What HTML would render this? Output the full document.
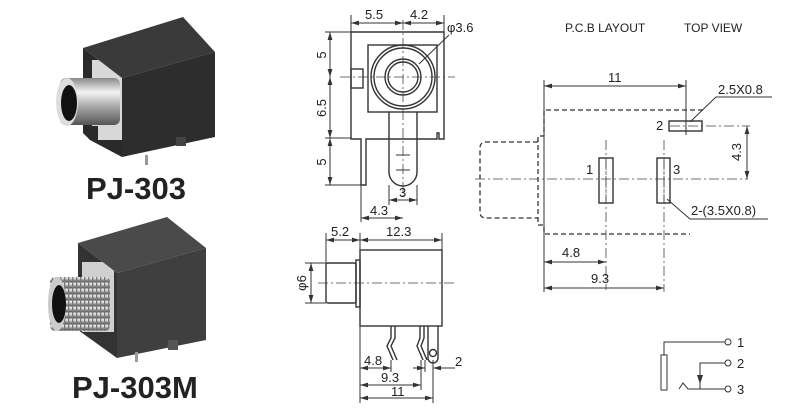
<!DOCTYPE html>
<html><head><meta charset="utf-8"><style>
html,body{margin:0;padding:0;background:#fff;}
svg{display:block;}
text{font-family:"Liberation Sans",sans-serif;fill:#222;}
.l{stroke:#333;stroke-width:1;fill:none;}
.t{stroke:#333;stroke-width:1.4;fill:none;}
.d{stroke:#333;stroke-width:1.3;fill:none;stroke-dasharray:5,3;}
.c{stroke:#444;stroke-width:0.8;fill:none;stroke-dasharray:10,3,2,3;}
</style></head><body>
<svg width="800" height="412" viewBox="0 0 800 412" xmlns="http://www.w3.org/2000/svg">
<defs>
<marker id="a" viewBox="0 0 10 6" refX="10" refY="3" markerWidth="8" markerHeight="5" orient="auto-start-reverse"><path d="M0,0L10,3L0,6z" fill="#333"/></marker>
<linearGradient id="s" x1="0" y1="0" x2="0" y2="1"><stop offset="0" stop-color="#888"/><stop offset="0.3" stop-color="#f4f4f4"/><stop offset="0.6" stop-color="#aaa"/><stop offset="1" stop-color="#555"/></linearGradient>
<pattern id="th" width="4" height="6" patternUnits="userSpaceOnUse"><rect width="4" height="6" fill="url(#s)"/><rect width="1.3" height="6" fill="#777"/></pattern>
</defs>

<!-- photo 1 -->
<polygon points="83,48 122,78 122,157 90,140 83,133" fill="#2a2a2a"/>
<rect x="92" y="60" width="30" height="80" fill="#d8d8d8"/>
<rect x="90" y="126" width="8" height="14" fill="#2a2a2a"/>
<rect x="60" y="78" width="60" height="47" rx="6" fill="url(#s)"/>
<ellipse cx="67" cy="102" rx="11" ry="24" fill="#ddd"/>
<ellipse cx="69" cy="103" rx="8" ry="18" fill="#111"/>
<polygon points="83,48 183,17 215,52 122,78" fill="#3a3a3a"/>
<polygon points="122,78 215,52 215,137 122,157" fill="#2d2d2d"/>
<rect x="176" y="137" width="10" height="9" fill="#444"/>
<rect x="145" y="155" width="3" height="10" fill="#999"/>
<text x="86" y="199" font-size="31" font-weight="bold" fill="#1a1a1a">PJ-303</text>

<!-- photo 2 -->
<polygon points="78,243 117,273 117,358 78,330" fill="#333"/>
<rect x="82" y="262" width="32" height="70" fill="#d0d0d0"/>
<rect x="50" y="277" width="60" height="54" rx="5" fill="url(#th)"/>
<ellipse cx="57" cy="304" rx="9" ry="27" fill="#ccc"/>
<ellipse cx="59" cy="304" rx="7" ry="19" fill="#111"/>
<polygon points="78,243 167,217 206,248 117,273" fill="#4a4a4a"/>
<polygon points="117,273 206,248 206,340 117,358" fill="#3f3f3f"/>
<rect x="168" y="340" width="10" height="10" fill="#555"/>
<rect x="135" y="352" width="3" height="10" fill="#999"/>
<text x="72" y="398" font-size="31" font-weight="bold" fill="#1a1a1a">PJ-303M</text>

<!-- top view drawing -->
<path class="t" d="M351,32H444V139H439V133H437V139H366V185H361V139H351Z"/>
<rect class="t" x="368" y="45" width="69" height="67"/>
<rect class="t" x="351" y="69" width="12" height="19"/>
<circle class="t" cx="403" cy="77" r="32"/>
<circle class="t" cx="403" cy="77" r="29"/>
<circle class="t" cx="403" cy="77" r="18"/>
<circle class="t" cx="403" cy="77" r="15"/>
<path class="t" d="M389,112V172A14,14 0 0 0 417,172V112" fill="#fff"/>
<line class="c" x1="403" y1="20" x2="403" y2="200"/>
<line class="c" x1="340" y1="77" x2="455" y2="77"/>
<line class="l" x1="396" y1="155" x2="410" y2="155"/><line class="l" x1="396" y1="170" x2="410" y2="170"/>
<!-- dims -->
<line class="l" x1="351" y1="15" x2="351" y2="32"/><line class="l" x1="444" y1="15" x2="444" y2="32"/>
<line class="l" x1="351" y1="23" x2="403" y2="23" marker-start="url(#a)" marker-end="url(#a)"/>
<line class="l" x1="403" y1="23" x2="444" y2="23" marker-start="url(#a)" marker-end="url(#a)"/>
<text x="365" y="19" font-size="13">5.5</text><text x="410" y="19" font-size="13">4.2</text>
<text x="447" y="32" font-size="13">φ3.6</text>
<line class="l" x1="449" y1="35" x2="419" y2="64"/>
<line class="l" x1="325" y1="32" x2="351" y2="32"/><line class="l" x1="325" y1="138" x2="351" y2="138"/><line class="l" x1="325" y1="185" x2="361" y2="185"/>
<line class="l" x1="330" y1="32" x2="330" y2="77" marker-start="url(#a)" marker-end="url(#a)"/>
<line class="l" x1="330" y1="77" x2="330" y2="138" marker-start="url(#a)" marker-end="url(#a)"/>
<line class="l" x1="330" y1="138" x2="330" y2="185" marker-start="url(#a)" marker-end="url(#a)"/>
<text transform="translate(326,55) rotate(-90)" font-size="13" text-anchor="middle">5</text>
<text transform="translate(326,108) rotate(-90)" font-size="13" text-anchor="middle">6.5</text>
<text transform="translate(326,162) rotate(-90)" font-size="13" text-anchor="middle">5</text>
<line class="l" x1="389" y1="185" x2="389" y2="205"/><line class="l" x1="417" y1="185" x2="417" y2="205"/>
<line class="l" x1="389" y1="200" x2="417" y2="200" marker-start="url(#a)" marker-end="url(#a)"/>
<text x="399" y="197" font-size="13">3</text>
<line class="l" x1="361" y1="185" x2="361" y2="222"/>
<line class="l" x1="361" y1="218" x2="403" y2="218" marker-start="url(#a)" marker-end="url(#a)"/>
<text x="370" y="215" font-size="13">4.3</text>

<!-- side view -->
<rect class="t" x="360" y="250" width="82" height="76"/>
<rect class="t" x="356" y="260" width="4" height="47"/>
<rect class="t" x="326" y="263" width="30" height="40" rx="2"/>
<line class="c" x1="318" y1="283" x2="455" y2="283"/>
<path class="t" d="M391,326V338L387,346L393,360M395,326V338L391,346L397,360"/>
<path class="t" d="M420,326V338L417,346L423,360M424,326V338L421,346L427,360"/>
<path class="t" d="M428,326V358A5,5 0 0 0 438,358V326"/>
<circle class="t" cx="433" cy="353" r="3.5"/>
<line class="l" x1="326" y1="233" x2="326" y2="263"/><line class="l" x1="360" y1="233" x2="360" y2="250"/><line class="l" x1="442" y1="233" x2="442" y2="250"/>
<line class="l" x1="326" y1="240" x2="360" y2="240" marker-start="url(#a)" marker-end="url(#a)"/>
<line class="l" x1="360" y1="240" x2="442" y2="240" marker-start="url(#a)" marker-end="url(#a)"/>
<text x="331" y="236" font-size="13">5.2</text><text x="386" y="236" font-size="13">12.3</text>
<line class="l" x1="305" y1="263" x2="326" y2="263"/><line class="l" x1="305" y1="303" x2="326" y2="303"/>
<line class="l" x1="311" y1="263" x2="311" y2="303" marker-start="url(#a)" marker-end="url(#a)"/>
<text transform="translate(306,283) rotate(-90)" font-size="13" text-anchor="middle">φ6</text>
<line class="l" x1="360" y1="326" x2="360" y2="403"/>
<line class="l" x1="391" y1="360" x2="391" y2="372"/><line class="l" x1="421" y1="360" x2="421" y2="390"/><line class="l" x1="433" y1="360" x2="433" y2="403"/><line class="l" x1="425" y1="360" x2="425" y2="372"/>
<line class="l" x1="360" y1="368" x2="391" y2="368" marker-start="url(#a)" marker-end="url(#a)"/>
<text x="364" y="365" font-size="13">4.8</text>
<line class="l" x1="360" y1="385" x2="421" y2="385" marker-start="url(#a)" marker-end="url(#a)"/>
<text x="381" y="382" font-size="13">9.3</text>
<line class="l" x1="360" y1="398" x2="433" y2="398" marker-start="url(#a)" marker-end="url(#a)"/>
<text x="391" y="396" font-size="13">11</text>
<line class="l" x1="413" y1="368" x2="425" y2="368" marker-end="url(#a)"/>
<line class="l" x1="455" y1="368" x2="433" y2="368" marker-end="url(#a)"/>
<text x="455" y="366" font-size="13">2</text>

<!-- PCB layout -->
<text x="565" y="32" font-size="12">P.C.B LAYOUT</text><text x="684" y="32" font-size="12">TOP VIEW</text>
<path class="d" d="M703,110H544V136H538V225H544V234H690"/>
<path class="d" d="M538,142H486Q480,142 480,148V212Q480,218 486,218H538"/>
<line class="c" x1="475" y1="179" x2="748" y2="179"/>
<line class="c" x1="606" y1="140" x2="606" y2="290"/>
<line class="c" x1="664" y1="140" x2="664" y2="292"/>
<rect x="599" y="158" width="14" height="45" class="t" fill="#fff"/>
<rect x="657" y="158" width="13" height="45" class="t" fill="#fff"/>
<line class="c" x1="606" y1="160" x2="606" y2="201"/><line class="c" x1="664" y1="160" x2="664" y2="201"/>
<rect x="669" y="121" width="33" height="10" class="t" fill="#fff"/>
<line class="c" x1="670" y1="126" x2="750" y2="126"/>
<line class="l" x1="686" y1="80" x2="686" y2="135"/>
<line class="l" x1="544" y1="80" x2="544" y2="292"/>
<line class="l" x1="544" y1="86" x2="686" y2="86" marker-start="url(#a)" marker-end="url(#a)"/>
<text x="608" y="82" font-size="13">11</text>
<line class="l" x1="747" y1="126" x2="747" y2="179" marker-start="url(#a)" marker-end="url(#a)"/>
<text transform="translate(741,152) rotate(-90)" font-size="13" text-anchor="middle">4.3</text>
<text x="718" y="94" font-size="13">2.5X0.8</text>
<polyline class="l" points="772,97 716,97 690,122"/>
<text x="691" y="215" font-size="13">2-(3.5X0.8)</text>
<polyline class="l" points="768,219 690,219 667,199"/>
<text x="586" y="174" font-size="13">1</text><text x="673" y="174" font-size="13">3</text><text x="656" y="130" font-size="13">2</text>
<line class="l" x1="544" y1="262" x2="606" y2="262" marker-start="url(#a)" marker-end="url(#a)"/>
<text x="562" y="257" font-size="13">4.8</text>
<line class="l" x1="544" y1="288" x2="664" y2="288" marker-start="url(#a)" marker-end="url(#a)"/>
<text x="591" y="283" font-size="13">9.3</text>

<!-- schematic -->
<rect class="l" x="661" y="355" width="6" height="35"/>
<polyline class="l" points="664,355 664,342 725,342"/>
<circle class="l" cx="728" cy="342" r="3"/>
<polyline class="l" points="700,389 700,363 725,363"/>
<path d="M697,375L700,384L703,375z" fill="#333"/>
<circle class="l" cx="728" cy="363" r="3"/>
<polyline class="l" points="679,389 683,383 688,389 725,389"/>
<circle class="l" cx="728" cy="389" r="3"/>
<text x="737" y="347" font-size="13">1</text><text x="737" y="368" font-size="13">2</text><text x="737" y="394" font-size="13">3</text>
</svg>
</body></html>
